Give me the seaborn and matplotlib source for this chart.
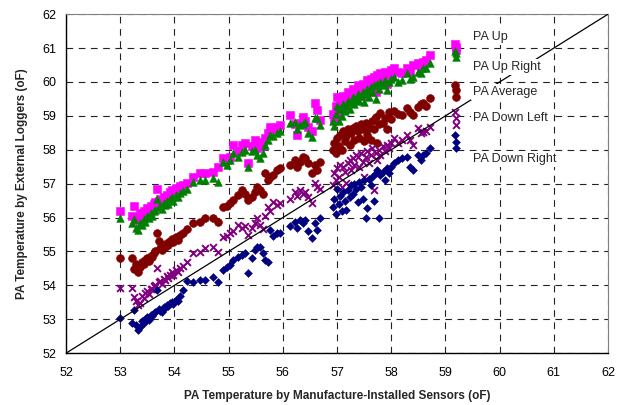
import matplotlib
matplotlib.use("Agg")
import matplotlib.pyplot as plt
import seaborn as sns
import pandas as pd

# Shared x values (manufacturer-installed sensor readings)
x_sensor = [
    53.00,
    53.22, 53.26, 53.30, 53.33, 53.36, 53.40, 53.43, 53.46, 53.50, 53.53,
    53.56, 53.59, 53.62, 53.65, 53.68, 53.71, 53.74, 53.77, 53.80, 53.83,
    53.86, 53.89, 53.92, 53.95, 53.98, 54.02, 54.06, 54.10, 54.16, 54.24,
    54.35, 54.47, 54.56, 54.71, 54.80,
    54.90, 54.97, 55.03, 55.08, 55.17, 55.25, 55.30, 55.36, 55.43, 55.49,
    55.52, 55.58, 55.63, 55.67, 55.73, 55.76, 55.82, 55.89, 55.95,
    56.13, 56.22, 56.26, 56.32, 56.37, 56.41, 56.47, 56.54, 56.60, 56.63, 56.69,
    56.92, 56.95, 56.98, 57.00, 57.03, 57.06, 57.09, 57.11, 57.14, 57.17,
    57.20, 57.23, 57.26, 57.29, 57.32, 57.35, 57.38, 57.41, 57.44, 57.47,
    57.50, 57.53, 57.56, 57.59, 57.62, 57.65, 57.68, 57.71, 57.74, 57.77,
    57.80, 57.84, 57.88, 57.92, 57.96, 58.00,
    58.05, 58.12, 58.20, 58.29, 58.35, 58.40, 58.49, 58.55, 58.59, 58.65, 58.72,
    59.18, 59.19, 59.20,
]

pa_up = [
    56.19,
    56.05, 56.35, 55.92, 56.02, 56.12, 56.08, 56.20, 56.15, 56.28, 56.22,
    56.33, 56.30, 56.40, 56.45, 56.85, 56.50, 56.55, 56.48, 56.62, 56.58,
    56.68, 56.65, 56.75, 56.80, 56.72, 56.88, 56.85, 56.92, 56.95, 57.02,
    57.20, 57.30, 57.30, 57.33, 57.49,
    57.75, 57.70, 57.78, 58.14, 57.95, 58.14, 58.20, 57.62, 58.10, 58.28,
    58.05, 58.22, 58.10, 58.35, 58.50, 58.67, 58.60, 58.67, 58.73,
    59.02, 58.75, 58.43, 58.80, 58.96, 58.85, 58.67, 58.55, 59.37, 59.17, 58.87,
    59.05, 58.90, 59.30, 59.55, 59.10, 59.40, 59.25, 59.60, 59.35, 59.50,
    59.70, 59.45, 59.65, 59.80, 59.55, 59.75, 59.90, 59.70, 59.85, 59.95,
    59.60, 59.90, 60.05, 59.80, 60.10, 59.95, 60.15, 59.70, 60.20, 60.05,
    60.25, 60.10, 60.30, 59.95, 60.20, 60.35,
    60.40, 60.30, 60.26, 60.41, 60.30, 60.50, 60.55, 60.45, 60.58, 60.65, 60.79,
    61.11, 61.03, 60.95,
]

pa_up_right = [
    55.98,
    55.85, 55.95, 55.70, 55.62, 55.85, 55.78, 55.95, 55.88, 56.05, 55.98,
    56.12, 56.05, 56.18, 56.22, 56.55, 56.30, 56.35, 56.25, 56.42, 56.38,
    56.48, 56.40, 56.55, 56.62, 56.50, 56.68, 56.62, 56.72, 56.78, 56.85,
    57.04, 57.10, 57.10, 57.16, 57.04,
    57.63, 57.55, 57.69, 57.90, 57.80, 57.93, 58.00, 57.49, 57.95, 57.99,
    57.85, 57.75, 57.90, 58.15, 58.30, 58.45, 58.40, 58.50, 58.55,
    58.80, 58.81, 58.60, 58.73, 58.75, 58.81, 58.50, 58.37, 58.93, 58.95, 58.73,
    58.85, 58.70, 59.05, 59.30, 58.85, 59.20, 59.00, 59.35, 59.15, 59.30,
    59.45, 59.20, 59.40, 59.55, 59.35, 59.50, 59.65, 59.45, 59.60, 59.70,
    59.40, 59.65, 59.80, 59.55, 59.85, 59.70, 59.90, 59.50, 59.95, 59.80,
    60.00, 59.90, 60.05, 59.75, 60.00, 60.10,
    60.15, 60.00, 60.05, 60.26, 60.10, 60.14, 60.29, 60.25, 60.41, 60.40, 60.55,
    60.92, 60.73, 60.85,
]

pa_average = [
    54.80,
    54.82, 54.48, 54.62, 54.40, 54.55, 54.68, 54.62, 54.75, 54.80, 54.72,
    54.88, 54.85, 54.95, 55.02, 55.55, 55.32, 55.10, 55.05, 55.18, 55.12,
    55.25, 55.20, 55.32, 55.38, 55.28, 55.42, 55.35, 55.50, 55.55, 55.65,
    55.83, 55.86, 55.98, 56.00, 55.86,
    56.31, 56.35, 56.42, 56.51, 56.66, 56.81, 56.70, 56.51, 56.60, 56.75,
    56.90, 56.81, 56.70, 57.30, 57.10, 57.19, 57.25, 57.40, 57.45,
    57.55, 57.69, 57.50, 57.63, 57.80, 57.75, 57.60, 57.31, 57.55, 57.40, 57.65,
    57.99, 58.20, 57.90, 58.34, 58.10, 58.45, 58.00, 58.55, 58.25, 58.40,
    58.60, 58.15, 58.50, 58.65, 58.30, 58.70, 58.55, 58.35, 58.75, 58.60,
    58.25, 58.80, 58.45, 58.65, 58.28, 58.85, 58.60, 58.96, 58.19, 58.75,
    59.08, 58.80, 58.95, 58.60, 59.10, 58.90,
    59.15, 59.05, 59.02, 59.23, 59.10, 59.02, 59.26, 59.35, 59.37, 59.30, 59.52,
    59.90, 59.76, 59.55,
]

pa_down_left = [
    53.92,
    53.92, 53.65, 53.55, 53.42, 53.48, 53.70, 53.62, 53.78, 53.82, 53.75,
    53.90, 53.88, 53.98, 54.02, 54.52, 54.10, 54.12, 54.05, 54.20, 54.15,
    54.28, 54.22, 54.32, 54.40, 54.30, 54.45, 54.38, 54.50, 54.58, 54.68,
    54.95, 54.98, 55.10, 55.13, 54.98,
    55.42, 55.45, 55.54, 55.60, 55.78, 55.69, 55.75, 55.50, 55.70, 55.85,
    55.98, 55.78, 55.65, 56.05, 56.31, 56.20, 56.45, 56.38, 56.42,
    56.55, 56.75, 56.65, 56.81, 56.70, 56.75, 56.60, 56.42, 57.01, 56.90, 56.85,
    56.95, 57.30, 57.10, 57.45, 57.20, 57.55, 56.90, 57.49, 57.35, 57.01,
    57.60, 57.69, 57.40, 57.75, 57.55, 57.85, 57.78, 57.50, 57.90, 57.65,
    57.20, 57.80, 57.95, 57.60, 57.85, 58.05, 56.81, 57.90, 57.70, 58.00,
    57.85, 58.10, 57.95, 58.15, 58.05, 58.20,
    58.35, 58.20, 58.28, 58.43, 58.30, 58.14, 58.64, 58.50, 58.52, 58.55, 58.67,
    59.10, 58.93, 58.73,
]

pa_down_right = [
    53.03,
    52.90, 53.28, 52.82, 52.68, 52.78, 52.95, 52.90, 53.02, 53.08, 52.98,
    53.12, 53.10, 53.18, 53.22, 53.85, 53.30, 53.25, 53.20, 53.35, 53.32,
    53.42, 53.38, 53.48, 53.52, 53.45, 53.58, 53.55, 53.68, 53.85, 54.12,
    54.10, 54.15, 54.15, 54.25, 54.10,
    54.45, 54.55, 54.60, 54.74, 54.85, 54.89, 54.95, 54.36, 54.80, 55.05,
    55.13, 55.13, 54.95, 54.75, 54.68, 55.63, 55.45, 55.54, 55.54,
    55.75, 55.86, 55.70, 55.92, 55.85, 55.92, 55.60, 55.39, 55.83, 55.63, 56.00,
    56.30, 56.55, 56.10, 56.85, 56.40, 56.65, 56.20, 56.75, 56.50, 56.22,
    56.80, 56.60, 56.95, 56.70, 57.00, 56.85, 56.45, 57.05, 56.90, 56.55,
    57.10, 55.98, 56.27, 57.15, 56.95, 57.20, 56.50, 57.30, 57.40, 56.00,
    57.25, 57.35, 57.10, 57.45, 57.30, 57.50,
    57.60, 57.70, 57.75, 57.78, 57.50, 57.40, 57.84, 57.70, 57.84, 57.90, 58.05,
    58.43, 58.22, 58.05,
]

series_names = ["PA Up", "PA Up Right", "PA Average", "PA Down Left", "PA Down Right"]
series_values = [pa_up, pa_up_right, pa_average, pa_down_left, pa_down_right]
series_colors = ["#FF00FF", "#008000", "#800000", "#800080", "#000080"]
series_markers = ["s", "^", "o", "x", "D"]
series_sizes = [26, 30, 32, 24, 16]

axis_ticks = list(range(52, 63))

sns.set_theme(style="white")
plt.rcParams["font.family"] = ["Liberation Sans", "DejaVu Sans"]

fig = plt.figure(figsize=(6.23, 4.05), dpi=100)
ax = fig.add_axes([0.106, 0.128, 0.870, 0.837])

for name, vals, col, mk, sz in zip(series_names, series_values, series_colors,
                                  series_markers, series_sizes):
    df = pd.DataFrame({"x": x_sensor, "y": vals})
    kw = dict(linewidth=1.4) if mk == "x" else dict(linewidth=0.4, edgecolor=col)
    sns.scatterplot(data=df, x="x", y="y", ax=ax, color=col, marker=mk, s=sz,
                    zorder=3, legend=False, **kw)

ax.axline((52, 52), slope=1, color="black", linewidth=0.9, zorder=4)

ax.set_xlim(52, 62)
ax.set_ylim(52, 62)
ax.set_xticks(axis_ticks)
ax.set_yticks(axis_ticks)
ax.tick_params(axis="both", labelsize=9, length=4, width=0.8, direction="out",
               colors="black", pad=3)
ax.tick_params(axis="x", pad=6)
ax.grid(True, color="#222222", linestyle=(0, (6, 5)), linewidth=0.8, zorder=0)
ax.set_axisbelow(True)
for side in ["left", "bottom"]:
    ax.spines[side].set_color("black")
    ax.spines[side].set_linewidth(1.0)
for side in ["top", "right"]:
    ax.spines[side].set_color("#808080")
    ax.spines[side].set_linewidth(0.8)

ax.set_xlabel("PA Temperature by Manufacture-Installed Sensors (oF)",
              fontsize=8.5, fontweight="bold", labelpad=8)
ax.set_ylabel("PA Temperature by External Loggers (oF)",
              fontsize=8.5, fontweight="bold", labelpad=10)

label_y = [61.32, 60.44, 59.70, 58.93, 57.72]
for name, ly in zip(series_names, label_y):
    ax.text(59.51, ly, name, fontsize=9, va="center", ha="left", zorder=6,
            bbox=dict(facecolor="white", edgecolor="none", pad=1.5))

fig.savefig("out.png", dpi=100)
